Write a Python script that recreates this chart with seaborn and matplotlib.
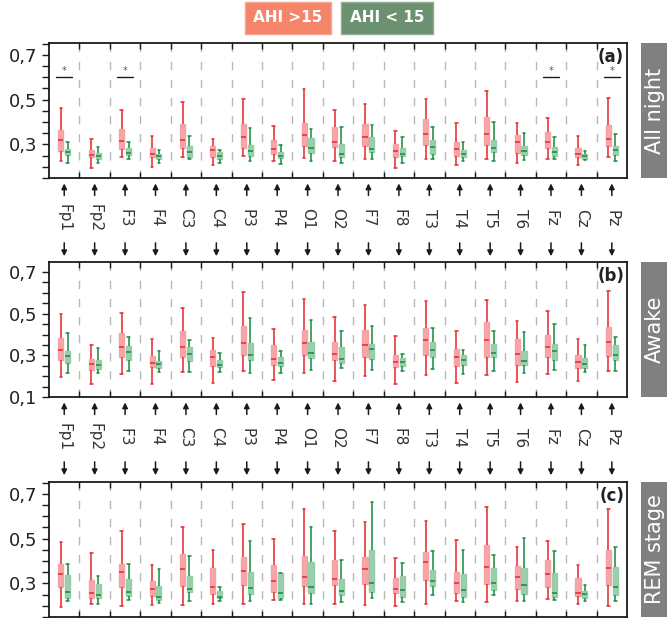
import matplotlib
matplotlib.use("Agg")
import matplotlib.pyplot as plt
import matplotlib.transforms as mtransforms
from matplotlib.ticker import MultipleLocator, FixedLocator, FuncFormatter
from matplotlib.patches import Rectangle
import seaborn as sns
import pandas as pd

channels = ["Fp1", "Fp2", "F3", "F4", "C3", "C4", "P3", "P4", "O1", "O2",
            "F7", "F8", "T3", "T4", "T5", "T6", "Fz", "Cz", "Pz"]
groups = ["AHI >15", "AHI < 15"]
stages = ["All night", "Awake", "REM stage"]
panel_tags = ["(a)", "(b)", "(c)"]

# (lower whisker, q1, median, q3, upper whisker) per channel
allnight_hi = [(0.228, 0.270, 0.318, 0.364, 0.464), (0.193, 0.242, 0.252, 0.275, 0.324),
               (0.242, 0.278, 0.313, 0.367, 0.452), (0.199, 0.245, 0.257, 0.282, 0.336),
               (0.243, 0.282, 0.321, 0.391, 0.488), (0.210, 0.245, 0.273, 0.294, 0.325),
               (0.246, 0.282, 0.333, 0.391, 0.501), (0.224, 0.257, 0.281, 0.318, 0.381),
               (0.239, 0.293, 0.342, 0.397, 0.549), (0.224, 0.287, 0.309, 0.380, 0.452),
               (0.237, 0.294, 0.334, 0.391, 0.479), (0.193, 0.245, 0.270, 0.300, 0.358),
               (0.237, 0.299, 0.345, 0.413, 0.501), (0.206, 0.249, 0.278, 0.309, 0.394),
               (0.237, 0.299, 0.345, 0.421, 0.537), (0.215, 0.263, 0.309, 0.342, 0.397),
               (0.237, 0.282, 0.309, 0.355, 0.416), (0.206, 0.242, 0.257, 0.282, 0.336),
               (0.243, 0.294, 0.322, 0.385, 0.506)]
allnight_lo = [(0.219, 0.252, 0.267, 0.278, 0.312), (0.215, 0.237, 0.249, 0.260, 0.288),
               (0.233, 0.251, 0.261, 0.284, 0.309), (0.216, 0.236, 0.246, 0.255, 0.273),
               (0.234, 0.245, 0.266, 0.293, 0.336), (0.216, 0.236, 0.248, 0.264, 0.273),
               (0.228, 0.248, 0.270, 0.297, 0.372), (0.212, 0.239, 0.246, 0.264, 0.296),
               (0.224, 0.260, 0.282, 0.327, 0.367), (0.219, 0.245, 0.258, 0.301, 0.376),
               (0.234, 0.264, 0.278, 0.333, 0.385), (0.219, 0.249, 0.257, 0.282, 0.331),
               (0.237, 0.258, 0.288, 0.318, 0.379), (0.224, 0.242, 0.255, 0.275, 0.312),
               (0.227, 0.264, 0.282, 0.321, 0.399), (0.230, 0.251, 0.270, 0.293, 0.349),
               (0.233, 0.249, 0.267, 0.288, 0.331), (0.231, 0.234, 0.246, 0.258, 0.272),
               (0.224, 0.251, 0.273, 0.294, 0.348)]
awake_hi = [(0.194, 0.276, 0.327, 0.384, 0.497), (0.161, 0.231, 0.258, 0.282, 0.348),
            (0.210, 0.292, 0.340, 0.408, 0.505), (0.161, 0.244, 0.263, 0.297, 0.379),
            (0.219, 0.292, 0.340, 0.419, 0.527), (0.169, 0.250, 0.294, 0.327, 0.385),
            (0.224, 0.300, 0.360, 0.442, 0.606), (0.182, 0.253, 0.284, 0.350, 0.427),
            (0.213, 0.303, 0.360, 0.424, 0.571), (0.177, 0.277, 0.306, 0.366, 0.485),
            (0.200, 0.292, 0.352, 0.421, 0.544), (0.161, 0.244, 0.268, 0.302, 0.394),
            (0.205, 0.300, 0.373, 0.429, 0.563), (0.166, 0.248, 0.292, 0.332, 0.419),
            (0.205, 0.290, 0.376, 0.458, 0.568), (0.174, 0.252, 0.306, 0.377, 0.463),
            (0.211, 0.294, 0.342, 0.398, 0.513), (0.176, 0.239, 0.269, 0.302, 0.379),
            (0.224, 0.295, 0.366, 0.437, 0.611)]
awake_lo = [(0.213, 0.261, 0.297, 0.323, 0.406), (0.213, 0.234, 0.252, 0.279, 0.334),
            (0.226, 0.276, 0.316, 0.344, 0.387), (0.221, 0.239, 0.258, 0.273, 0.321),
            (0.219, 0.273, 0.306, 0.340, 0.374), (0.219, 0.244, 0.253, 0.279, 0.311),
            (0.215, 0.277, 0.302, 0.360, 0.481), (0.215, 0.250, 0.265, 0.292, 0.321),
            (0.231, 0.287, 0.311, 0.366, 0.471), (0.240, 0.261, 0.284, 0.340, 0.415),
            (0.231, 0.282, 0.329, 0.355, 0.442), (0.226, 0.247, 0.269, 0.287, 0.306),
            (0.234, 0.292, 0.327, 0.366, 0.432), (0.211, 0.253, 0.279, 0.302, 0.327),
            (0.224, 0.290, 0.311, 0.355, 0.416), (0.215, 0.255, 0.273, 0.323, 0.410),
            (0.231, 0.276, 0.323, 0.355, 0.450), (0.219, 0.237, 0.260, 0.287, 0.350),
            (0.224, 0.276, 0.302, 0.350, 0.390)]
rem_hi = [(0.195, 0.282, 0.340, 0.386, 0.486), (0.207, 0.234, 0.256, 0.315, 0.437),
          (0.200, 0.282, 0.353, 0.387, 0.535), (0.203, 0.245, 0.275, 0.309, 0.383),
          (0.203, 0.287, 0.364, 0.433, 0.551), (0.207, 0.251, 0.284, 0.368, 0.451),
          (0.207, 0.293, 0.355, 0.418, 0.566), (0.225, 0.263, 0.309, 0.384, 0.499),
          (0.207, 0.287, 0.328, 0.424, 0.632), (0.207, 0.291, 0.319, 0.405, 0.535),
          (0.203, 0.296, 0.366, 0.420, 0.575), (0.200, 0.256, 0.275, 0.324, 0.415),
          (0.207, 0.316, 0.397, 0.442, 0.579), (0.220, 0.257, 0.301, 0.353, 0.495),
          (0.216, 0.296, 0.372, 0.473, 0.640), (0.220, 0.273, 0.327, 0.380, 0.464),
          (0.229, 0.282, 0.340, 0.406, 0.491), (0.207, 0.245, 0.257, 0.325, 0.384),
          (0.198, 0.291, 0.368, 0.448, 0.631)]
rem_lo = [(0.223, 0.235, 0.260, 0.337, 0.387), (0.207, 0.234, 0.248, 0.296, 0.331),
          (0.225, 0.244, 0.260, 0.322, 0.387), (0.211, 0.228, 0.238, 0.288, 0.366),
          (0.220, 0.260, 0.273, 0.332, 0.423), (0.220, 0.236, 0.239, 0.266, 0.282),
          (0.223, 0.251, 0.279, 0.349, 0.491), (0.225, 0.236, 0.257, 0.345, 0.348),
          (0.207, 0.256, 0.282, 0.396, 0.553), (0.216, 0.247, 0.266, 0.319, 0.403),
          (0.236, 0.260, 0.301, 0.451, 0.663), (0.216, 0.241, 0.269, 0.334, 0.393),
          (0.247, 0.287, 0.310, 0.358, 0.446), (0.216, 0.241, 0.270, 0.344, 0.451),
          (0.247, 0.269, 0.301, 0.371, 0.429), (0.220, 0.251, 0.293, 0.371, 0.504),
          (0.226, 0.238, 0.256, 0.347, 0.446), (0.220, 0.235, 0.253, 0.265, 0.294),
          (0.220, 0.250, 0.284, 0.375, 0.464)]

sig_allnight = ["Fp1", "F3", "Fz", "Pz"]
sig_level = 0.6

panels = [(allnight_hi, allnight_lo, (0.15, 0.753), [0.3, 0.5, 0.7]),
          (awake_hi, awake_lo, (0.10, 0.748), [0.1, 0.3, 0.5, 0.7]),
          (rem_hi, rem_lo, (0.15, 0.753), [0.3, 0.5, 0.7])]

line_cols = ["#e8262b", "#138a3a"]
fill_cols = ["#f59ca0", "#8fcaa2"]

sns.set_theme(style="white")
plt.rcParams["font.family"] = ["DejaVu Sans"]

fig = plt.figure(figsize=(6.67, 6.18), dpi=100)
ax_left, ax_w, ax_h = 0.0735, 0.8666, 0.2184
bottoms = [0.712, 0.3576, 0.0016]
axes = []

for p, (hi, lo, ylim, majors) in enumerate(panels):
    ax = fig.add_axes([ax_left, bottoms[p], ax_w, ax_h])
    axes.append(ax)
    rows = []
    for g, stats in zip(groups, [hi, lo]):
        for ch, st in zip(channels, stats):
            for v in st:
                rows.append({"channel": ch, "group": g, "value": v})
    df = pd.DataFrame(rows)
    sns.boxplot(data=df, x="channel", y="value", hue="group", order=channels,
                hue_order=groups, whis=(0, 100), width=0.45, gap=0.25,
                showfliers=False, legend=False, linewidth=1.0, ax=ax)
    for cont, lc, fc in zip(ax.containers, line_cols, fill_cols):
        for b in cont.boxes:
            b.set_facecolor(fc)
            b.set_edgecolor(fc)
            b.set_alpha(0.9)
        for art in list(cont.medians) + list(cont.whiskers) + list(cont.caps):
            art.set_color(lc)
            art.set_linewidth(1.1)

    for k in range(len(channels) - 1):
        ax.axvline(k + 0.5, color="#b8b8b8", ls=(0, (6, 7)), lw=1.0, zorder=0)

    ax.set_xlim(-0.5, len(channels) - 0.5)
    ax.set_ylim(*ylim)
    ax.xaxis.set_major_locator(FixedLocator([k + 0.5 for k in range(len(channels) - 1)]))
    ax.tick_params(axis="x", which="both", direction="in", top=True, bottom=True,
                   labelbottom=False, length=4, width=1.0, color="k")
    ax.yaxis.set_major_locator(FixedLocator(majors))
    ax.yaxis.set_minor_locator(MultipleLocator(0.05))
    ax.yaxis.set_major_formatter(FuncFormatter(lambda v, pos: f"{v:.1f}".replace(".", ",")))
    ax.tick_params(axis="y", which="both", direction="out", left=True, length=5,
                   width=1.0, color="k", labelsize=13, labelcolor="#222222")
    ax.set_xlabel("")
    ax.set_ylabel("")
    for s in ax.spines.values():
        s.set_color("k")
        s.set_linewidth(1.3)
    ax.text(0.995, 0.965, panel_tags[p], transform=ax.transAxes, ha="right", va="top",
            fontsize=12, fontweight="bold", color="#222222")

    # stage label on the right
    fig.patches.append(Rectangle((0.961, bottoms[p]), 0.06, ax_h, transform=fig.transFigure,
                                 facecolor="#808082", edgecolor="none"))
    fig.text(0.982, bottoms[p] + ax_h / 2, stages[p], rotation=90, ha="center", va="center",
             color="white", fontsize=15)

# significance marks on the all-night panel
ax = axes[0]
for ch in sig_allnight:
    i = channels.index(ch)
    ax.plot([i - 0.26, i + 0.26], [sig_level, sig_level], color="k", lw=1.0)
    ax.text(i, sig_level + 0.005, "*", ha="center", va="bottom", fontsize=7, color="#555555")

# channel names with arrows between the panels
for ax in axes[:2]:
    trans = mtransforms.blended_transform_factory(ax.transData, ax.transAxes)
    for i, ch in enumerate(channels):
        ax.annotate("", xy=(i, -0.02), xytext=(i, -0.15), xycoords=trans, textcoords=trans,
                    arrowprops=dict(arrowstyle="-|>", color="k", lw=1.1, mutation_scale=8),
                    annotation_clip=False)
        ax.text(i, -0.30, ch, transform=trans, rotation=-90, ha="center", va="center",
                fontsize=11, color="#333333")
        ax.annotate("", xy=(i, -0.60), xytext=(i, -0.46), xycoords=trans, textcoords=trans,
                    arrowprops=dict(arrowstyle="-|>", color="k", lw=1.1, mutation_scale=8),
                    annotation_clip=False)

# legend boxes
fig.text(288 / 667, 1 - 18 / 618, groups[0], ha="center", va="center", color="white",
         fontsize=11, fontweight="bold",
         bbox=dict(boxstyle="square,pad=0.55", fc="#f4846a", ec="#f6a590"))
fig.text(387 / 667, 1 - 18 / 618, groups[1], ha="center", va="center", color="white",
         fontsize=11, fontweight="bold",
         bbox=dict(boxstyle="square,pad=0.55", fc="#6b9170", ec="#8fae93"))

fig.savefig("out.png", dpi=100)
